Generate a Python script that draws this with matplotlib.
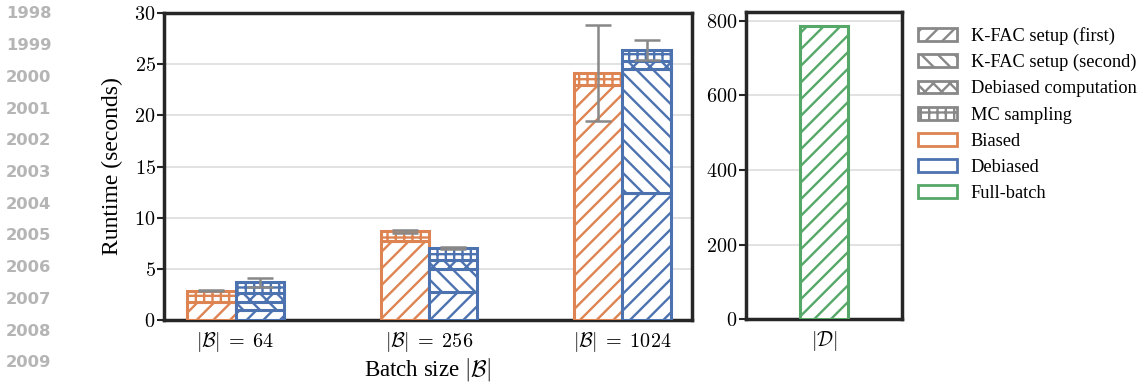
import matplotlib
matplotlib.use("Agg")
import matplotlib.pyplot as plt
import matplotlib.patches as mpatches
import numpy as np

plt.rcParams['font.family'] = 'Liberation Serif'
plt.rcParams['mathtext.fontset'] = 'cm'
plt.rcParams['hatch.linewidth'] = 1.7

# data
batch_labels = [r'$|\mathcal{B}|\;=\;64$', r'$|\mathcal{B}|\;=\;256$', r'$|\mathcal{B}|\;=\;1024$']
biased_kfac_first = [1.75, 7.75, 23.0]
biased_mc = [1.1, 0.9, 1.15]
biased_err = [0.05, 0.15, 4.7]
debiased_kfac_first = [1.0, 2.75, 12.4]
debiased_kfac_second = [0.8, 2.2, 12.15]
debiased_comp = [0.8, 0.9, 0.75]
debiased_mc = [1.1, 1.2, 1.1]
debiased_err = [0.45, 0.1, 0.95]
full_batch = [785]
years = list(range(1998, 2010))

ORANGE = '#DD8452'
BLUE = '#4C72B0'
GREEN = '#55A868'
GRAY = '#888888'
DARK = '#262626'

hatches = {'first': '//', 'second': '\\\\', 'comp': 'xx', 'mc': '++'}


def stack(ax, x, parts, color, width):
    bottom = np.zeros(len(x))
    for vals, h in parts:
        ax.bar(x, vals, width, bottom=bottom, facecolor='white', edgecolor=color,
               hatch=h, linewidth=2.2, zorder=3)
        bottom += np.array(vals)
    return bottom


def style_axis(ax):
    for s in ax.spines.values():
        s.set_linewidth(2.5)
        s.set_color(DARK)
    ax.yaxis.grid(True, color='#dddddd', linewidth=1.2, zorder=0)
    ax.set_axisbelow(True)
    ax.tick_params(axis='y', length=5, width=1.5, color=DARK, labelsize=14.5, pad=1)
    ax.tick_params(axis='x', length=0, labelsize=14.5, pad=7)


fig = plt.figure(figsize=(11.38, 3.83), dpi=100)
ax1 = fig.add_axes([0.1441, 0.1645, 0.464, 0.8015])
ax2 = fig.add_axes([0.6555, 0.1663, 0.1371, 0.8032])

x = np.arange(len(batch_labels))
w = 0.25
top_b = stack(ax1, x - w / 2, [(biased_kfac_first, hatches['first']), (biased_mc, hatches['mc'])], ORANGE, w)
top_d = stack(ax1, x + w / 2, [(debiased_kfac_first, hatches['first']), (debiased_kfac_second, hatches['second']),
                               (debiased_comp, hatches['comp']), (debiased_mc, hatches['mc'])], BLUE, w)
ax1.errorbar(x - w / 2, top_b, yerr=biased_err, fmt='none', ecolor=GRAY, elinewidth=1.8,
             capsize=9.5, capthick=1.8, zorder=4)
ax1.errorbar(x + w / 2, top_d, yerr=debiased_err, fmt='none', ecolor=GRAY, elinewidth=1.8,
             capsize=9.5, capthick=1.8, zorder=4)

ax1.set_xlim(-0.37, 2.36)
ax1.set_ylim(0, 30)
ax1.set_xticks(x)
ax1.set_xticklabels(batch_labels)
ax1.set_yticks(range(0, 31, 5))
ax1.set_yticklabels([f'${v}$' for v in range(0, 31, 5)])
ax1.set_xlabel(r'Batch size $|\mathcal{B}|$', fontsize=16.5, labelpad=2)
ax1.set_ylabel('Runtime (seconds)', fontsize=17, labelpad=8)
style_axis(ax1)

ax2.bar([0], full_batch, w, facecolor='white', edgecolor=GREEN, hatch=hatches['first'],
        linewidth=2.2, zorder=3)
ax2.set_xlim(-0.4, 0.4)
ax2.set_yticks(range(0, 801, 200))
ax2.set_yticklabels([f'${v}$' for v in range(0, 801, 200)])
ax2.set_xticks([0])
ax2.set_xticklabels([r'$|\mathcal{D}|$'])
style_axis(ax2)

handles = [
    mpatches.Patch(facecolor='white', edgecolor=GRAY, hatch='//', linewidth=2, label='K-FAC setup (first)'),
    mpatches.Patch(facecolor='white', edgecolor=GRAY, hatch='\\\\', linewidth=2, label='K-FAC setup (second)'),
    mpatches.Patch(facecolor='white', edgecolor=GRAY, hatch='xx', linewidth=2, label='Debiased computation'),
    mpatches.Patch(facecolor='white', edgecolor=GRAY, hatch='++', linewidth=2, label='MC sampling'),
    mpatches.Patch(facecolor='white', edgecolor=ORANGE, linewidth=2, label='Biased'),
    mpatches.Patch(facecolor='white', edgecolor=BLUE, linewidth=2, label='Debiased'),
    mpatches.Patch(facecolor='white', edgecolor=GREEN, linewidth=2, label='Full-batch'),
]
fig.legend(handles=handles, loc='upper left', bbox_to_anchor=(0.807, 0.93), frameon=False,
           fontsize=13.2, handlelength=2.1, handleheight=0.7, labelspacing=0.5,
           handletextpad=0.75, borderaxespad=0, borderpad=0)

# gray year column on the left edge
for i, yr in enumerate(years):
    fig.text(6 / 1138, 1 - (14 + i * 31.7) / 383, str(yr), fontsize=11.8, fontweight='bold',
             color='#b5b5b5', family='DejaVu Sans', ha='left', va='center')

fig.savefig('out.png', dpi=100)
